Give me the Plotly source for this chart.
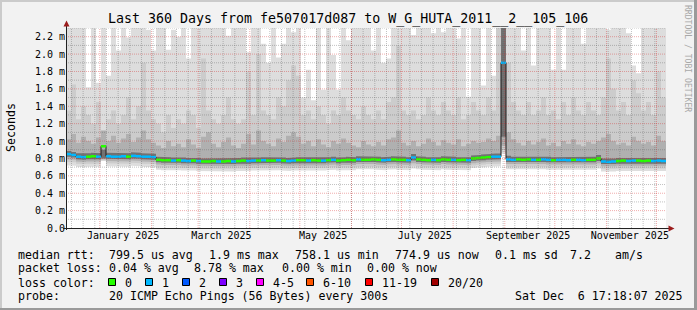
import plotly.graph_objects as go
import pandas as pd

# ---------------- data (values in milliseconds, 3-day bins) ----------------
START = pd.Timestamp("2024-12-11 17:18:07")
END = pd.Timestamp("2025-12-06 17:18:07")
BIN_DAYS = 3

median_ms = [
    0.85, 0.84, 0.82, 0.815, 0.82, 0.825, 0.82, 0.94, 0.825, 0.82, 0.82, 0.825, 0.82, 0.83, 0.825, 0.82, 0.82, 0.815,
    0.785, 0.78, 0.78, 0.775, 0.78, 0.775, 0.77, 0.775, 0.77, 0.765, 0.765, 0.77, 0.765, 0.765, 0.77, 0.765, 0.77, 0.775, 0.77,
    0.775, 0.775, 0.78, 0.775, 0.775, 0.78, 0.775, 0.77, 0.775, 0.78, 0.78, 0.775, 0.78, 0.775, 0.775, 0.78, 0.785, 0.775, 0.78,
    0.785, 0.78, 0.79, 0.785, 0.785, 0.79, 0.785, 0.78, 0.785, 0.79, 0.785, 0.785, 0.78, 0.81, 0.79, 0.785, 0.78, 0.785, 0.78,
    0.79, 0.785, 0.785, 0.78, 0.785, 0.78, 0.8, 0.805, 0.81, 0.815, 0.82, 0.82,
    1.9,
    0.79, 0.785, 0.79, 0.785, 0.79, 0.785, 0.785, 0.79, 0.785, 0.78, 0.785, 0.785, 0.78, 0.785, 0.785, 0.78, 0.785, 0.785,
    0.8, 0.765, 0.76, 0.765, 0.77, 0.775, 0.77, 0.775, 0.775, 0.77, 0.775, 0.77, 0.775, 0.77,
]
loss_count = [
    1, 1, 1, 1, 0, 0, 1, 0, 1, 1, 1, 1, 0, 1, 1, 1, 1, 1,
    0, 0, 0, 1, 0, 1, 1, 0, 1, 0, 0, 0, 1, 0, 0, 1, 0, 0, 1, 1, 0, 1, 0, 0, 1, 0, 1, 1, 0, 0, 1, 0, 0, 1, 0, 1, 0, 0,
    0, 0, 1, 0, 0, 0, 0, 1, 1, 0, 0, 0, 1, 1, 0, 0, 0, 1, 0, 0, 0, 1, 0, 0, 1, 0, 0, 0, 0, 1, 1,
    1,
    1, 1, 0, 0, 0, 1, 0, 1, 1, 0, 1, 1, 1, 0, 1, 1, 0, 0, 0, 1, 1, 1, 0, 0, 1, 1, 0, 0, 0, 1, 1, 1,
]
ping_max = [
    2.4, 2.4, 2.4, 2.4, 1.62, 2.4, 1.67, 2.4, 1.75, 2.4,
    2.04, 2.4, 2.19, 2.4, 2.4, 2.4, 2.28, 2.04, 2.4, 2.4,
    2.05, 2.28, 2.2, 2.4, 1.95, 2.4, 2.4, 2.4, 2.3, 2.4,
    2.4, 2.4, 2.21, 2.4, 2.4, 2.4, 2.02, 2.4, 2.4, 2.12,
    1.9, 2.4, 1.96, 2.12, 2.4, 2.25, 2.4, 1.5, 1.82, 1.47,
    2.4, 1.59, 2.4, 1.99, 1.59, 2.4, 2.16, 2.4, 2.4, 2.4,
    2.4, 2.04, 2.4, 1.9, 1.95, 2.4, 2.4, 2.4, 2.4, 2.22,
    2.4, 2.4, 2.4, 2.24, 2.4, 2.25, 2.4, 2.4, 2.18, 2.4,
    1.51, 2.4, 2.4, 1.64, 2.4, 1.75, 2.4, 2.4, 2.4, 2.4,
    2.4, 2.04, 2.4, 1.87, 2.4, 2.4, 2.4, 1.82, 2.4, 1.82,
    2.4, 2.4, 2.4, 2.12, 2.4, 2.4, 2.4, 2.4, 2.28, 2.4,
    2.4, 2.4, 2.24, 1.87, 1.78, 2.4, 2.4, 2.4, 2.4, 2.4,
]
ping_p90 = [
    1.35, 1.65, 1.25, 1.4, 1.3, 1.2, 1.45, 1.1, 1.25, 1.35,
    1.2, 1.3, 1.5, 1.25, 1.4, 1.9, 1.35, 1.25, 1.2, 1.1,
    1.3, 1.15, 1.25, 1.2, 1.35, 1.3, 1.15, 1.95, 1.35, 1.25,
    1.2, 1.3, 1.5, 1.25, 1.2, 1.25, 1.8, 1.3, 2.0, 1.35,
    1.3, 1.25, 1.5, 1.4, 1.7, 1.87, 1.75, 1.3, 1.35, 1.25,
    1.4, 1.3, 1.2, 1.35, 1.3, 1.5, 1.35, 1.3, 1.25, 1.4,
    1.3, 1.25, 1.35, 1.25, 1.45, 1.5, 2.1, 1.35, 1.3, 1.35,
    1.25, 1.3, 1.5, 1.35, 1.3, 1.45, 1.35, 1.3, 1.5, 1.25,
    1.3, 1.45, 1.35, 1.3, 1.5, 1.35, 2.4, 2.4, 1.9, 1.45,
    1.35, 1.3, 1.45, 1.3, 1.35, 1.5, 1.3, 1.35, 1.25, 1.45,
    1.3, 1.5, 1.35, 1.3, 1.45, 1.35, 1.3, 1.5, 1.95, 1.6,
    1.35, 1.45, 1.3, 1.7, 1.55, 1.35, 1.45, 1.3, 1.8, 1.5,
]
ping_p75 = [
    1.02, 1.08, 0.98, 1.05, 1.0, 0.97, 1.04, 1.12, 1.0, 1.06, 0.98, 1.03, 1.08, 0.99, 1.04, 1.12, 1.02, 0.98,
    0.95, 0.92, 1.0, 0.94, 0.97, 0.93, 1.02, 0.96, 0.92, 1.05, 1.1, 0.97, 0.93, 0.99, 1.04, 0.95, 0.92, 0.97, 1.08, 0.96, 1.12,
    1.0, 0.97, 0.94, 1.03, 0.99, 1.06, 1.1, 1.05, 0.97, 1.0, 0.94, 1.02, 0.96, 0.93, 1.0, 0.97, 1.03,
    0.98, 0.95, 0.93, 1.0, 0.96, 0.94, 0.99, 0.95, 1.02, 1.04, 1.12, 0.98, 0.95, 1.0, 0.94, 0.97, 1.03, 0.99, 0.95, 1.01,
    0.98, 0.96, 1.02, 0.94, 0.97, 1.0, 0.98, 0.99, 1.03, 1.0, 1.06,
    2.4,
    1.1, 1.02, 0.98, 0.95, 1.0, 0.96, 0.99, 1.03, 0.95, 0.98, 0.94, 1.0, 0.97, 1.02, 0.96, 0.94, 0.99, 0.97, 1.0, 1.04,
    1.08, 1.0, 0.96, 0.98, 0.95, 1.05, 1.0, 0.97, 0.99, 0.95, 1.06, 1.0,
]
ping_p60 = [
    0.885, 0.875, 0.86, 0.855, 0.86, 0.865, 0.86, 0.9, 0.865, 0.86, 0.86, 0.865, 0.86, 0.87, 0.865, 0.86, 0.86, 0.855,
    0.82, 0.815, 0.815, 0.81, 0.815, 0.81, 0.805, 0.81, 0.805, 0.8, 0.8, 0.805, 0.8, 0.8, 0.805, 0.8, 0.805, 0.81, 0.805,
    0.81, 0.81, 0.815, 0.81, 0.81, 0.815, 0.81, 0.805, 0.81, 0.815, 0.815, 0.81, 0.815, 0.81, 0.81, 0.815, 0.82, 0.81, 0.815,
    0.82, 0.815, 0.825, 0.82, 0.82, 0.825, 0.82, 0.815, 0.82, 0.825, 0.82, 0.82, 0.815, 0.85, 0.825, 0.82, 0.815, 0.82, 0.815,
    0.825, 0.82, 0.82, 0.815, 0.82, 0.815, 0.835, 0.84, 0.845, 0.85, 0.855, 0.86,
    2.4,
    0.83, 0.82, 0.825, 0.82, 0.825, 0.82, 0.82, 0.825, 0.82, 0.815, 0.82, 0.82, 0.815, 0.82, 0.82, 0.815, 0.82, 0.82,
    0.84, 0.8, 0.795, 0.8, 0.805, 0.81, 0.805, 0.81, 0.81, 0.805, 0.81, 0.805, 0.81, 0.805,
]
ping_p40 = [
    0.82, 0.81, 0.79, 0.785, 0.79, 0.795, 0.79, 0.8, 0.795, 0.79, 0.79, 0.795, 0.79, 0.8, 0.795, 0.79, 0.79, 0.785,
    0.755, 0.75, 0.75, 0.745, 0.75, 0.745, 0.74, 0.745, 0.74, 0.735, 0.735, 0.74, 0.735, 0.735, 0.74, 0.735, 0.74, 0.745, 0.74,
    0.745, 0.745, 0.75, 0.745, 0.745, 0.75, 0.745, 0.74, 0.745, 0.75, 0.75, 0.745, 0.75, 0.745, 0.745, 0.75, 0.755, 0.745, 0.75,
    0.755, 0.75, 0.76, 0.755, 0.755, 0.76, 0.755, 0.75, 0.755, 0.76, 0.755, 0.755, 0.75, 0.775, 0.76, 0.755, 0.75, 0.755, 0.75,
    0.76, 0.755, 0.755, 0.75, 0.755, 0.75, 0.77, 0.775, 0.78, 0.785, 0.79, 0.79,
    1.05,
    0.76, 0.755, 0.76, 0.755, 0.76, 0.755, 0.755, 0.76, 0.755, 0.75, 0.755, 0.755, 0.75, 0.755, 0.755, 0.75, 0.755, 0.755,
    0.77, 0.735, 0.73, 0.735, 0.74, 0.745, 0.74, 0.745, 0.745, 0.74, 0.745, 0.74, 0.745, 0.74,
]
ping_p25 = [
    0.79, 0.785, 0.765, 0.76, 0.765, 0.77, 0.765, 0.79, 0.77, 0.765, 0.765, 0.77, 0.765, 0.775, 0.77, 0.765, 0.765, 0.76,
    0.73, 0.725, 0.725, 0.72, 0.725, 0.72, 0.715, 0.72, 0.715, 0.71, 0.71, 0.715, 0.71, 0.71, 0.715, 0.71, 0.715, 0.72, 0.715,
    0.72, 0.72, 0.725, 0.72, 0.72, 0.725, 0.72, 0.715, 0.72, 0.725, 0.725, 0.72, 0.725, 0.72, 0.72, 0.725, 0.73, 0.72, 0.725,
    0.73, 0.725, 0.735, 0.73, 0.73, 0.735, 0.73, 0.725, 0.73, 0.735, 0.73, 0.73, 0.725, 0.745, 0.735, 0.73, 0.725, 0.73, 0.725,
    0.735, 0.73, 0.73, 0.725, 0.73, 0.725, 0.745, 0.75, 0.755, 0.76, 0.765, 0.765,
    0.95,
    0.735, 0.73, 0.735, 0.73, 0.735, 0.73, 0.73, 0.735, 0.73, 0.725, 0.73, 0.73, 0.725, 0.73, 0.73, 0.725, 0.73, 0.73,
    0.745, 0.71, 0.705, 0.71, 0.715, 0.72, 0.715, 0.72, 0.72, 0.715, 0.72, 0.715, 0.72, 0.715,
]
ping_p10 = [
    0.76, 0.755, 0.74, 0.735, 0.74, 0.745, 0.74, 0.78, 0.745, 0.74, 0.74, 0.745, 0.74, 0.75, 0.745, 0.74, 0.74, 0.735,
    0.7, 0.695, 0.695, 0.69, 0.695, 0.69, 0.685, 0.69, 0.685, 0.68, 0.68, 0.685, 0.68, 0.68, 0.685, 0.68, 0.685, 0.69, 0.685,
    0.69, 0.69, 0.695, 0.69, 0.69, 0.695, 0.69, 0.685, 0.69, 0.695, 0.695, 0.69, 0.695, 0.69, 0.69, 0.695, 0.7, 0.69, 0.695,
    0.7, 0.695, 0.705, 0.7, 0.7, 0.705, 0.7, 0.695, 0.7, 0.705, 0.7, 0.7, 0.695, 0.715, 0.705, 0.7, 0.695, 0.7, 0.695,
    0.705, 0.7, 0.7, 0.695, 0.7, 0.695, 0.72, 0.725, 0.73, 0.735, 0.74, 0.74,
    0.9,
    0.705, 0.7, 0.705, 0.7, 0.705, 0.7, 0.7, 0.705, 0.7, 0.695, 0.7, 0.7, 0.695, 0.7, 0.7, 0.695, 0.7, 0.7,
    0.715, 0.68, 0.675, 0.68, 0.685, 0.69, 0.685, 0.69, 0.69, 0.685, 0.69, 0.685, 0.69, 0.685,
]
ping_min = [
    0.72, 0.715, 0.705, 0.7, 0.705, 0.71, 0.705, 0.77, 0.71, 0.705, 0.705, 0.71, 0.705, 0.715, 0.71, 0.705, 0.705, 0.7,
    0.67, 0.665, 0.665, 0.66, 0.665, 0.66, 0.655, 0.66, 0.655, 0.65, 0.65, 0.655, 0.65, 0.65, 0.655, 0.65, 0.655, 0.66, 0.655,
    0.66, 0.66, 0.665, 0.66, 0.66, 0.665, 0.66, 0.655, 0.66, 0.665, 0.665, 0.66, 0.665, 0.66, 0.66, 0.665, 0.67, 0.66, 0.665,
    0.67, 0.665, 0.675, 0.67, 0.67, 0.675, 0.67, 0.665, 0.67, 0.675, 0.67, 0.67, 0.665, 0.685, 0.675, 0.67, 0.665, 0.67, 0.665,
    0.675, 0.67, 0.67, 0.665, 0.67, 0.665, 0.69, 0.695, 0.7, 0.705, 0.71, 0.71,
    0.86,
    0.675, 0.67, 0.675, 0.67, 0.675, 0.67, 0.67, 0.675, 0.67, 0.665, 0.67, 0.67, 0.665, 0.67, 0.67, 0.665, 0.67, 0.67,
    0.685, 0.65, 0.645, 0.65, 0.655, 0.66, 0.655, 0.66, 0.66, 0.655, 0.66, 0.655, 0.66, 0.655,
]

y_tick_vals = [0.0, 0.2, 0.4, 0.6, 0.8, 1.0, 1.2, 1.4, 1.6, 1.8, 2.0, 2.2]
y_tick_text = ["0.0", "0.2 m", "0.4 m", "0.6 m", "0.8 m", "1.0 m", "1.2 m", "1.4 m", "1.6 m", "1.8 m", "2.0 m", "2.2 m"]
x_tick_vals = ["2025-01-15", "2025-03-15", "2025-05-15", "2025-07-15", "2025-09-15", "2025-11-15"]
x_tick_text = ["January 2025", "March 2025", "May 2025", "July 2025", "September 2025", "November 2025"]

loss_labels = ["0", "1", "2", "3", "4-5", "6-10", "11-19", "20/20"]
loss_colors = ["#26ff00", "#00b8ff", "#0059ff", "#7e00ff", "#ff00ff", "#ff5500", "#ff0000", "#a10000"]

title_text = "Last 360 Days from fe507017d087 to W_G_HUTA_2011__2__105_106"
rtt_items = ["median rtt:", "799.5 us avg", "1.9 ms max", "758.1 us min", "774.9 us now", "0.1 ms sd", "7.2", "am/s"]
loss_items = ["packet loss:", "0.04 % avg", "8.78 % max", "0.00 % min", "0.00 % now"]
probe_items = ["probe:", "20 ICMP Echo Pings (56 Bytes) every 300s", "Sat Dec  6 17:18:07 2025"]
loss_head = "loss color:"

# ---------------- layout geometry (pixels) ----------------
W, H = 697, 310
PL, PR, PT, PB = 66, 666, 28, 228
MONO = "DejaVu Sans Mono"
rtt_x = [16, 107, 207, 293, 393, 493, 568, 613]
loss_x = [16, 107, 191.5, 280, 365]
probe_x = [16, 107, 513]
ROW_Y = [254.5, 268.2, 282.5, 296]


def px(x):
    return (x - PL) / (PR - PL)


def py(y):
    return (PB - y) / (PB - PT)


def nb(s):
    return s.replace(" ", "\u00a0")


edges = [(START + pd.Timedelta(days=BIN_DAYS * i)).strftime("%Y-%m-%d %H:%M:%S") for i in range(len(median_ms) + 1)]

fig = go.Figure()


def band(lo, hi, color):
    xs, ys = [], []
    for i, v in enumerate(hi):
        xs += [edges[i], edges[i + 1]]
        ys += [v, v]
    for i in range(len(lo) - 1, -1, -1):
        xs += [edges[i + 1], edges[i]]
        ys += [lo[i], lo[i]]
    fig.add_trace(go.Scatter(x=xs, y=ys, mode="lines", fill="toself", fillcolor=color,
                             line=dict(width=0, color=color), hoverinfo="skip", showlegend=False))


band(ping_min, ping_max, "#dddddd")
band(ping_p10, ping_p90, "#cccccc")
band(ping_p25, ping_p75, "#b0b0b0")
band(ping_p40, ping_p60, "#727272")

# connecting step line for the median
fig.add_trace(go.Scatter(x=edges, y=median_ms + [median_ms[-1]], mode="lines", line=dict(color="#1a1a1a", width=1, shape="hv"),
                         hoverinfo="skip", showlegend=False))
for cls in (0, 1):
    xs, ys = [], []
    for i, v in enumerate(median_ms):
        if loss_count[i] == cls:
            xs += [edges[i], edges[i + 1], None]
            ys += [v, v, None]
    fig.add_trace(go.Scatter(x=xs, y=ys, mode="lines", line=dict(color=loss_colors[cls], width=2.5),
                             hoverinfo="skip", showlegend=False))

shapes = []
GRID_MINOR = "rgba(95,95,95,0.38)"
GRID_MAJOR = "rgba(215,40,40,0.38)"
# weekly (Sunday) grid lines
d = pd.Timestamp("2024-12-15")
while d < END:
    shapes.append(dict(type="line", xref="x", yref="paper", x0=d, x1=d, y0=0, y1=1, layer="above",
                       line=dict(color=GRID_MINOR, width=1, dash="1px,1px")))
    d += pd.Timedelta(days=7)
# monthly grid lines
for m in pd.date_range("2025-01-01", "2025-12-01", freq="MS"):
    shapes.append(dict(type="line", xref="x", yref="paper", x0=m, x1=m, y0=0, y1=1, layer="above",
                       line=dict(color=GRID_MAJOR, width=1, dash="1px,1px")))
for k in range(12):
    v = 0.1 + 0.2 * k
    shapes.append(dict(type="line", xref="paper", yref="y", x0=0, x1=1, y0=v, y1=v, layer="above",
                       line=dict(color=GRID_MINOR, width=1, dash="1px,1px")))
for v in y_tick_vals[1:]:
    shapes.append(dict(type="line", xref="paper", yref="y", x0=0, x1=1, y0=v, y1=v, layer="above",
                       line=dict(color=GRID_MAJOR, width=1, dash="1px,1px")))

# axes lines and arrows
shapes.append(dict(type="line", xref="paper", yref="paper", x0=px(66.5), x1=px(66.5), y0=py(230), y1=py(26),
                   layer="above", line=dict(color="#222222", width=1)))
shapes.append(dict(type="line", xref="paper", yref="paper", x0=px(63), x1=px(669), y0=py(228.5), y1=py(228.5),
                   layer="above", line=dict(color="#222222", width=1)))
shapes.append(dict(type="path", xref="paper", yref="paper", layer="above",
                   path=f"M {px(63.5)} {py(26.5)} L {px(69.5)} {py(26.5)} L {px(66.5)} {py(20.5)} Z",
                   fillcolor="#9b1c1c", line=dict(width=0)))
shapes.append(dict(type="path", xref="paper", yref="paper", layer="above",
                   path=f"M {px(668.5)} {py(225.5)} L {px(668.5)} {py(231.5)} L {px(674.5)} {py(228.5)} Z",
                   fillcolor="#9b1c1c", line=dict(width=0)))

# image border shading
shapes += [
    dict(type="rect", xref="paper", yref="paper", x0=px(0), x1=px(W), y0=py(0), y1=py(2), fillcolor="#cbcbcb", line=dict(width=0), layer="above"),
    dict(type="rect", xref="paper", yref="paper", x0=px(0), x1=px(2), y0=py(0), y1=py(H), fillcolor="#cbcbcb", line=dict(width=0), layer="above"),
    dict(type="rect", xref="paper", yref="paper", x0=px(0), x1=px(W), y0=py(H - 2), y1=py(H), fillcolor="#9a9a9a", line=dict(width=0), layer="above"),
    dict(type="rect", xref="paper", yref="paper", x0=px(W - 3), x1=px(W), y0=py(0), y1=py(H), fillcolor="#9a9a9a", line=dict(width=0), layer="above"),
]

annotations = []


def text_at(x, y, s, size=11.6, anchor="left", color="#000", angle=0):
    annotations.append(dict(x=px(x), y=py(y), xref="paper", yref="paper", text=nb(s), showarrow=False, textangle=angle,
                            xanchor=anchor, yanchor="middle", font=dict(family=MONO, size=size, color=color)))


# loss colour boxes
box_x = [108.5, 145.5, 182.5, 219.5, 256.5, 306.5, 365.5, 431.5]
for bx, col, lab in zip(box_x, loss_colors, loss_labels):
    shapes.append(dict(type="rect", xref="paper", yref="paper", x0=px(bx), x1=px(bx + 7), y0=py(278.5), y1=py(285.5),
                       fillcolor=col, line=dict(color="#000000", width=1), layer="above"))
    text_at(bx + 14.5, ROW_Y[2], lab)

for s, x in zip(rtt_items, rtt_x):
    text_at(x, ROW_Y[0], s)
for s, x in zip(loss_items, loss_x):
    text_at(x, ROW_Y[1], s)
text_at(16, ROW_Y[2], loss_head)
for s, x in zip(probe_items, probe_x):
    text_at(x, ROW_Y[3], s)

text_at(347.5, 19, title_text, size=13.3, anchor="center")
text_at(11, 128, "Seconds", anchor="center", angle=-90)
text_at(688, 58, "RRDTOOL / TOBI OETIKER", size=8.1, anchor="center", color="#a8a8a8", angle=90)

fig.update_layout(
    width=W, height=H,
    margin=dict(l=PL, r=W - PR, t=PT, b=H - PB, pad=0),
    paper_bgcolor="#f2f2f2", plot_bgcolor="#ffffff",
    showlegend=False,
    shapes=shapes, annotations=annotations,
    xaxis=dict(type="date", range=[START, END], showgrid=False, zeroline=False, showline=False,
               tickmode="array", tickvals=x_tick_vals, ticktext=x_tick_text, ticks="",
               tickfont=dict(family=MONO, size=10, color="#000"), fixedrange=True),
    yaxis=dict(range=[0, 2.3], showgrid=False, zeroline=False, showline=False,
               tickmode="array", tickvals=y_tick_vals, ticktext=y_tick_text, ticks="",
               tickfont=dict(family=MONO, size=10, color="#000"), fixedrange=True),
)

fig.write_html("out.html", config={"displayModeBar": False})
